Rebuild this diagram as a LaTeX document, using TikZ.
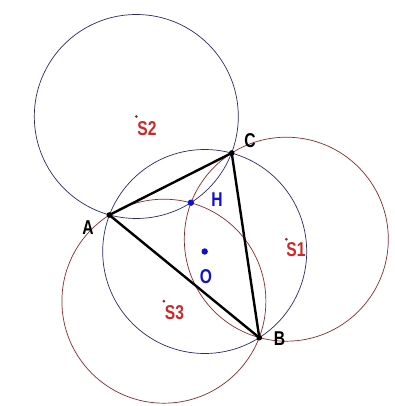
\documentclass[tikz,border=0pt]{standalone}
\usepackage{fontspec}
\setmainfont{Liberation Sans}
\definecolor{ptred}{HTML}{D02828}
\definecolor{circred}{HTML}{8A2A2A}
\definecolor{circblue}{HTML}{2A2A70}
\definecolor{ptblue}{HTML}{1010D0}
\tikzset{
  lab/.style={font=\fontsize{20}{20}\selectfont\bfseries, inner sep=0pt},
  redcirc/.style={draw=circred, line width=0.7pt},
  bluecirc/.style={draw=circblue, line width=0.7pt},
  side/.style={draw=black, line width=2.4pt, line cap=round},
}
\newcommand{\nar}[1]{\scalebox{0.78}[1]{#1}}
\begin{document}
\begin{tikzpicture}[x=1pt,y=-1pt]
\useasboundingbox[fill=white] (0,0) rectangle (395,406);
\coordinate (A) at (109.3,215);
\coordinate (B) at (259.3,337.7);
\coordinate (C) at (231.7,153);
\coordinate (O) at (204.7,251.5);
\coordinate (H) at (190.9,202.7);
\coordinate (S1) at (286.3,239.2);
\coordinate (S2) at (136.3,116.5);
\coordinate (S3) at (163.9,301.2);
% circles
\draw[bluecirc] (O) circle (102);
\draw[bluecirc] (S2) circle (102);
\draw[redcirc] (S1) circle (102);
\draw[redcirc] (S3) circle (102);
% triangle
\draw[side] (A) -- (C);
\draw[side] (C) -- (B);
\draw[side] (B) -- (A);
% points
\fill[black] (A) circle (2.8);
\fill[black] (B) circle (2.8);
\fill[black] (C) circle (2.8);
\fill[ptblue] (H) circle (3.2);
\fill[ptblue] (O) circle (3.2);
\fill[circred] (S1) circle (1.5);
\fill[circred] (S2) circle (1.5);
\fill[circred] (S3) circle (1.5);
% labels
\node[lab] (lA) at (88,227.5) {\nar{A}};
\node[lab] (lB) at (279.5,339) {\nar{B}};
\node[lab] (lC) at (250,141) {\nar{C}};
\node[lab, text=ptblue] (lH) at (217,200) {\nar{H}};
\node[lab, text=ptblue] (lO) at (206,276.5) {\nar{O}};
\node[lab, text=ptred] (lS1) at (296,249.5) {\nar{S1}};
\node[lab, text=ptred] (lS2) at (147,129) {\nar{S2}};
\node[lab, text=ptred] (lS3) at (174.5,313) {\nar{S3}};
\end{tikzpicture}
\end{document}
